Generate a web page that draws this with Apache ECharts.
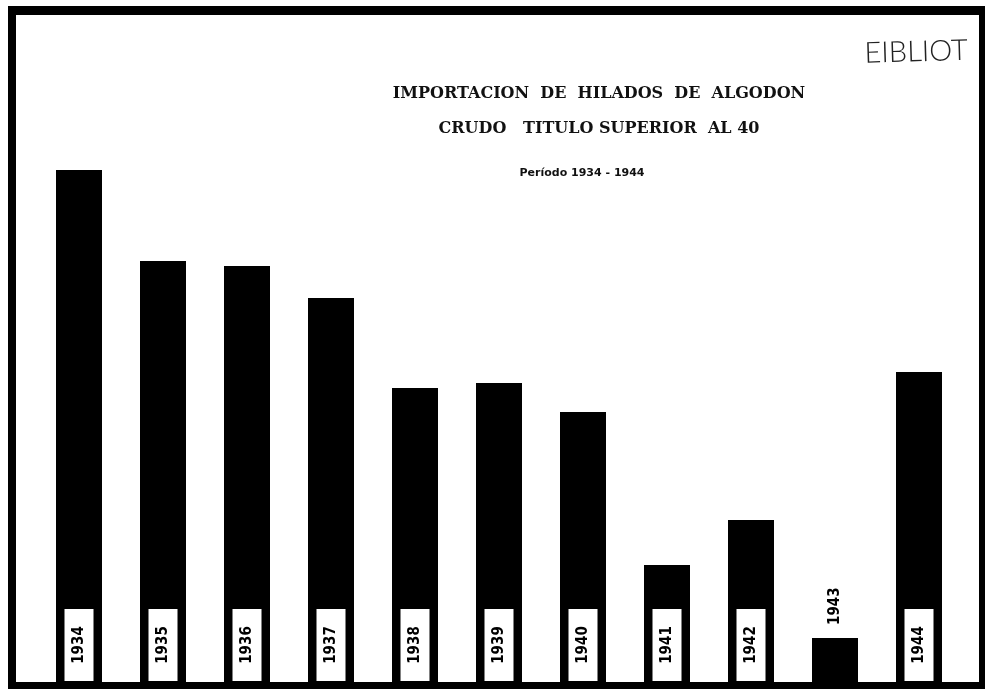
<!DOCTYPE html>
<html>
<head>
<meta charset="utf-8">
<script src="https://cdn.jsdelivr.net/npm/echarts@6/dist/echarts.min.js"></script>
<style>
  html, body { margin: 0; padding: 0; background: #fff; }
  #chart1 { width: 985px; height: 689px; }
</style>
</head>
<body>
<div id="chart1"></div>
<script>
  // años y alturas de las barras (unidades relativas, sin escala en el original)
  var years = ['1934', '1935', '1936', '1937', '1938', '1939', '1940', '1941', '1942', '1943', '1944'];
  var values = [512, 421, 416, 384, 294, 299, 270, 117, 162, 44, 310];

  var titleLine1 = 'IMPORTACION  DE  HILADOS  DE  ALGODON';
  var titleLine2 = 'CRUDO   TITULO SUPERIOR  AL 40';
  var subTitle = 'Período 1934 - 1944';

  var yearFont = '"DejaVu Sans Condensed", "DejaVu Sans", sans-serif';

  var chart1 = echarts.init(document.getElementById('chart1'));

  var seriesData = values.map(function (v, i) {
    var item = {value: v};
    if (years[i] === '1943') {
      // barra muy baja: el año va encima, sin recuadro blanco
      item.label = {
        position: 'insideBottom',
        distance: v + 13,
        formatter: '{u|{b}}',
        rich: {
          u: {
            fontFamily: yearFont,
            fontSize: 15,
            lineHeight: 15,
            fontWeight: 'bold',
            color: '#000'
          }
        }
      };
    }
    return item;
  });

  var option = {
    backgroundColor: '#fff',
    animation: false,
    title: [
      {
        text: titleLine1 + '\n' + titleLine2,
        left: 594,
        top: 71,
        textAlign: 'center',
        textStyle: {
          fontFamily: '"DejaVu Serif", serif',
          fontWeight: 'bold',
          fontSize: 16,
          lineHeight: 35,
          color: '#111'
        }
      },
      {
        text: subTitle,
        left: 577,
        top: 163,
        textAlign: 'center',
        textStyle: {
          fontFamily: '"DejaVu Sans", sans-serif',
          fontWeight: 'bold',
          fontSize: 11,
          color: '#111'
        }
      }
    ],
    grid: {
      left: 37,
      right: 24,
      top: 82,
      bottom: 7,
      containLabel: false
    },
    xAxis: {
      type: 'category',
      data: years,
      show: false
    },
    yAxis: {
      type: 'value',
      min: 0,
      max: 600,
      show: false
    },
    series: [
      {
        type: 'bar',
        data: seriesData,
        barWidth: 46,
        itemStyle: {color: '#000'},
        label: {
          show: true,
          formatter: '{t|{b}}',
          position: 'insideBottom',
          distance: 1,
          rotate: 90,
          align: 'left',
          verticalAlign: 'middle',
          rich: {
            t: {
              backgroundColor: '#fff',
              width: 72,
              height: 29,
              lineHeight: 29,
              align: 'center',
              color: '#000',
              fontFamily: yearFont,
              fontWeight: 'bold',
              fontSize: 15
            }
          }
        }
      }
    ],
    graphic: [
      // sello
      {
        type: 'text',
        x: 864,
        y: 39,
        rotation: 0.03,
        style: {
          text: 'EIBLIOT',
          fill: '#222',
          font: '300 29px Lato, "DejaVu Sans", sans-serif'
        }
      },
      // marco negro
      {type: 'rect', shape: {x: 8, y: 6, width: 977, height: 9}, style: {fill: '#000'}},
      {type: 'rect', shape: {x: 8, y: 6, width: 8, height: 683}, style: {fill: '#000'}},
      {type: 'rect', shape: {x: 979, y: 6, width: 6, height: 683}, style: {fill: '#000'}},
      {type: 'rect', shape: {x: 8, y: 682, width: 977, height: 7}, style: {fill: '#000'}}
    ]
  };
  chart1.setOption(option);
</script>
</body>
</html>
